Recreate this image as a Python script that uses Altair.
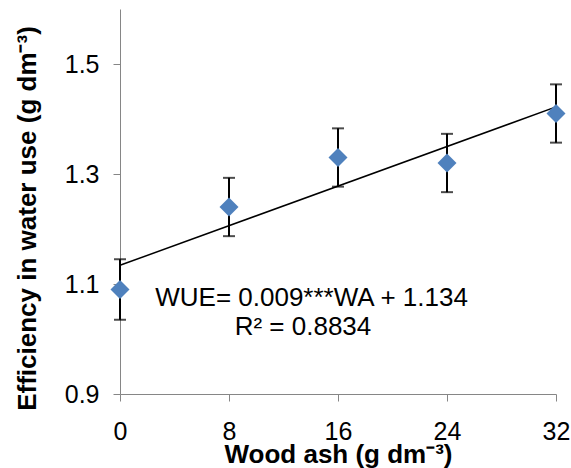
import altair as alt
import pandas as pd

wood_ash = [0, 8, 16, 24, 32]
wue = [1.09, 1.24, 1.33, 1.32, 1.41]
err = [0.055, 0.053, 0.053, 0.053, 0.053]
x_ticks = [0, 8, 16, 24, 32]
y_ticks = [0.9, 1.1, 1.3, 1.5]
eq_text = "WUE= 0.009***WA + 1.134"
r2_text = "R² = 0.8834"

df = pd.DataFrame({"wa": wood_ash, "wue": wue, "err": err})
df["lo"] = df["wue"] - df["err"]
df["hi"] = df["wue"] + df["err"]

FONT = "Liberation Sans"
AX = "#868686"

xscale = alt.Scale(domain=[0, 32], nice=False, zero=False)
yscale = alt.Scale(domain=[0.9, 1.6], nice=False, zero=False)

xaxis = alt.Axis(values=x_ticks, title="Wood ash (g dm⁻³)", grid=False,
                 domainColor=AX, tickColor=AX, tickSize=7, labelPadding=18,
                 labelFlush=False,
                 labelFontSize=25, labelFont=FONT, labelColor="black",
                 titleFont=FONT, titleFontSize=26, titleFontWeight="bold",
                 titleColor="black", titleY=68, titleBaseline="alphabetic")
yaxis = alt.Axis(values=y_ticks, format=".1f", title="Efficiency in water use (g dm⁻³)",
                 grid=False, domainColor=AX, tickColor=AX, tickSize=7, labelPadding=14,
                 labelFontSize=25, labelFont=FONT, labelColor="black",
                 titleFont=FONT, titleFontSize=26, titleFontWeight="bold",
                 titleColor="black", titleX=-85, titleY=209, titleBaseline="alphabetic")

base = alt.Chart(df)

trend = base.transform_regression("wa", "wue", extent=[0, 32]).mark_line(
    color="black", strokeWidth=1.5
).encode(x=alt.X("wa:Q", scale=xscale, axis=xaxis), y=alt.Y("wue:Q", scale=yscale, axis=yaxis))

bars = base.mark_rule(color="black", strokeWidth=2).encode(
    x="wa:Q", y="lo:Q", y2="hi:Q")
cap_lo = base.mark_tick(color="black", thickness=2, size=12, orient="horizontal").encode(
    x="wa:Q", y="lo:Q")
cap_hi = base.mark_tick(color="black", thickness=2, size=12, orient="horizontal").encode(
    x="wa:Q", y="hi:Q")

pts = base.mark_point(shape="diamond", filled=True, size=360, color="#4F81BD", opacity=1).encode(
    x="wa:Q", y="wue:Q")

t1 = alt.Chart().mark_text(text=eq_text, font=FONT, fontSize=26, align="center",
                           baseline="alphabetic", color="black").encode(
    x=alt.datum(14.06), y=alt.datum(1.06))
t2 = alt.Chart().mark_text(text=r2_text, font=FONT, fontSize=26, align="center",
                           baseline="alphabetic", color="black").encode(
    x=alt.datum(13.43), y=alt.datum(1.007))

chart = alt.layer(trend, bars, cap_lo, cap_hi, pts, t1, t2).properties(
    width=436, height=385,
    autosize=alt.AutoSizeParams(type="none"),
    padding={"left": 120, "top": 9, "right": 15, "bottom": 74},
    background="white",
).configure_view(stroke=None)

chart.save("out.html", embed_options={"renderer": "svg", "actions": False})
